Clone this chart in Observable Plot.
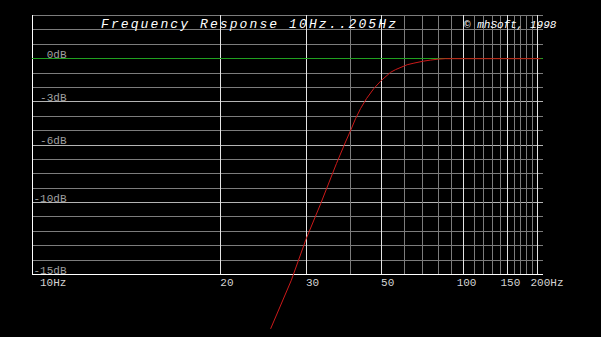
<!DOCTYPE html>
<html><head><meta charset="utf-8">
<script src="https://cdn.jsdelivr.net/npm/d3@7"></script>
<script src="https://cdn.jsdelivr.net/npm/@observablehq/plot@0.6"></script>
<style>
html,body{margin:0;padding:0;background:#000;overflow:hidden;}
#wrap{position:relative;width:601px;height:337px;}
#title{position:absolute;left:101px;top:18px;font:italic 13px/13px "Liberation Mono",monospace;letter-spacing:2.1px;color:#fff;white-space:nowrap;}
#credit{position:absolute;left:464px;top:20px;font:italic 11px/11px "Liberation Mono",monospace;color:#fff;white-space:nowrap;}
</style></head><body>
<div id="wrap"><div id="chart"></div><div id="title">Frequency Response 10Hz..205Hz</div><div id="credit">© mhSoft, 1998</div></div>
<script>
// Response curve (Hz, dB)
const responseFreq = [24.8, 27.6, 30, 32.8, 36.3, 38.6, 40, 41.4, 42.9, 44.8, 47.3, 50, 53.8, 56, 61.5, 65, 70.5, 74.7, 80, 85, 205];
const responseDb   = [-18.75, -15.4, -12.55, -10.07, -7.29, -5.79, -4.98, -4.17, -3.47, -2.78, -2.08, -1.53, -0.95, -0.76, -0.42, -0.31, -0.17, -0.1, -0.03, 0, 0];

// Grid
const majorFreqs = [20, 30, 50, 100, 150, 200];
const minorFreqs = [40, 60, 70, 80, 90, 110, 120, 130, 140, 160, 170, 180, 190];
const majorDb = [-3, -6, -10];
const minorDb = [3, 2, 1, -1, -2, -4, -5, -7, -8, -9, -11, -12, -13, -14];

// Tick labels
const dbTicks = [0, -3, -6, -10, -15];
const dbTickLabels = ["0dB", "-3dB", "-6dB", "-10dB", "-15dB"];
const freqTicks = [10, 20, 30, 50, 100, 150, 200];
const freqTickLabels = ["10Hz", "20", "30", "50", "100", "150", "200Hz"];

const OFFSET = 13; // the chart's frequency axis is logarithmic in (f - 13)
const warp = f => Math.max(f - OFFSET, 1);

const response = responseFreq.map((f, i) => ({f, db: responseDb[i]}));
const dbRows = dbTicks.map((v, i) => ({v, label: dbTickLabels[i]}));
const fRows = freqTicks.map((f, i) => ({f, label: freqTickLabels[i]}));

const font = "Liberation Mono, monospace";
const crisp = {shapeRendering: "crispEdges"};

const chart = Plot.plot({
  width: 601, height: 337,
  marginTop: 15, marginBottom: 63, marginLeft: 32, marginRight: 58,
  style: {background: "#000", color: "#fff", fontFamily: font},
  x: {type: "log", domain: [warp(10), warp(212)], axis: null},
  y: {domain: [-15, 3], axis: null},
  marks: [
    Plot.ruleY(minorDb, {stroke: "#7c7c7c", ...crisp}),
    Plot.ruleY(majorDb, {stroke: "#b4b4b4", ...crisp}),
    Plot.ruleX(minorFreqs, {x: warp, stroke: "#7c7c7c", ...crisp}),
    Plot.ruleX(majorFreqs, {x: warp, stroke: "#e4e4e4", ...crisp}),
    Plot.ruleX([10], {x: warp, stroke: "#ffffff", ...crisp}),
    Plot.ruleY([-15], {stroke: "#ffffff", ...crisp}),
    Plot.ruleY([0], {stroke: "#20a020", ...crisp}),
    Plot.line(response, {x: d => warp(d.f), y: "db", stroke: "#cc1a1a", strokeWidth: 1}),
    Plot.text(dbRows, {y: "v", text: "label", frameAnchor: "left", dx: 34, dy: -4.5, textAnchor: "end", fill: "#a0a0a0", fontSize: 11, fontFamily: font}),
    Plot.text(fRows.filter(d => d.f === 10), {x: d => warp(d.f), text: "label", frameAnchor: "bottom", dx: 7.5, dy: 11, textAnchor: "start", fill: "#d4d4d4", fontSize: 11, fontFamily: font}),
    Plot.text(fRows.filter(d => d.f > 10 && d.f < 100), {x: d => warp(d.f), text: "label", frameAnchor: "bottom", dy: 11, textAnchor: "start", fill: "#d4d4d4", fontSize: 11, fontFamily: font}),
    Plot.text(fRows.filter(d => d.f >= 100), {x: d => warp(d.f), text: "label", frameAnchor: "bottom", dx: -7, dy: 11, textAnchor: "start", fill: "#d4d4d4", fontSize: 11, fontFamily: font})
  ]
});
document.getElementById("chart").appendChild(chart);
</script>
</body></html>
